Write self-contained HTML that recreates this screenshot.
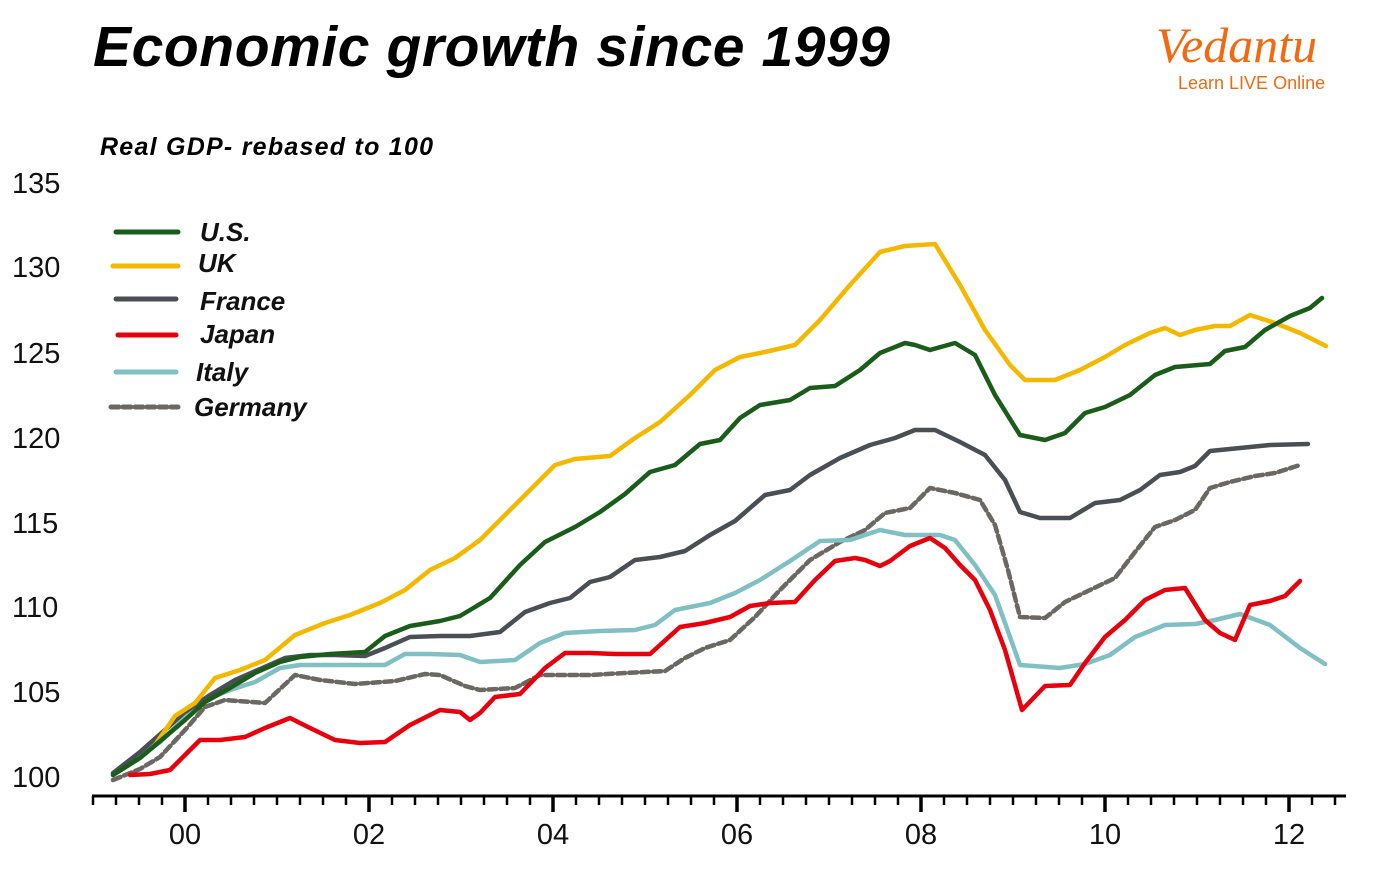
<!DOCTYPE html>
<html><head><meta charset="utf-8"><style>
body{margin:0;background:#fff;width:1373px;height:870px;overflow:hidden;font-family:"Liberation Sans",sans-serif;}
</style></head><body>
<svg width="1373" height="870" xmlns="http://www.w3.org/2000/svg" font-family="Liberation Sans, sans-serif">
<text x="93" y="66" font-size="57" font-weight="bold" font-style="italic" fill="#000" textLength="797" lengthAdjust="spacing">Economic growth since 1999</text>
<text x="1156" y="62" font-size="50" font-style="italic" fill="#f26a10" font-family="Liberation Serif, serif">Vedantu</text>
<text x="1178" y="89" font-size="18" fill="#f26a10">Learn LIVE Online</text>
<text x="100" y="155" font-size="25" font-weight="bold" font-style="italic" fill="#000" textLength="333" lengthAdjust="spacing">Real GDP- rebased to 100</text>
<g font-size="29" fill="#111">
<text x="12" y="193">135</text><text x="12" y="277">130</text><text x="12" y="363">125</text>
<text x="12" y="448">120</text><text x="12" y="533">115</text><text x="12" y="617">110</text>
<text x="12" y="702">105</text><text x="12" y="787">100</text>
</g>
<line x1="92" y1="796" x2="1346" y2="796" stroke="#000" stroke-width="3"/>
<path stroke="#000" stroke-width="2.5" fill="none" d="M93 796v9M116 796v9M139 796v9M162 796v9M208 796v9M231 796v9M254 796v9M277 796v9M300 796v9M323 796v9M346 796v9M392 796v9M415 796v9M438 796v9M461 796v9M484 796v9M507 796v9M530 796v9M576 796v9M599 796v9M622 796v9M645 796v9M668 796v9M691 796v9M714 796v9M760 796v9M783 796v9M806 796v9M829 796v9M852 796v9M875 796v9M898 796v9M944 796v9M967 796v9M990 796v9M1013 796v9M1036 796v9M1059 796v9M1082 796v9M1128 796v9M1151 796v9M1174 796v9M1197 796v9M1220 796v9M1243 796v9M1266 796v9M1312 796v9M1335 796v9"/>
<path stroke="#000" stroke-width="3.5" fill="none" d="M185 796v16M369 796v16M553 796v16M737 796v16M921 796v16M1105 796v16M1289 796v16"/>
<g font-size="29" fill="#111" text-anchor="middle">
<text x="185" y="844">00</text><text x="369" y="844">02</text><text x="553" y="844">04</text>
<text x="737" y="844">06</text><text x="921" y="844">08</text><text x="1105" y="844">10</text><text x="1289" y="844">12</text>
</g>
<g fill="none" stroke-linejoin="round" stroke-linecap="round" stroke-width="4.5">
<polyline stroke="#6b6762" stroke-dasharray="8,4" points="113,780 140,769 160,757 185,730 205,707 225,700 265,703 295,675 320,680 355,684 395,681 425,674 440,675 465,686 480,690 515,688 540,675 560,675 590,675 625,673 665,671 685,658 705,648 730,640 755,617 780,590 810,560 840,542 865,530 885,513 910,508 930,488 955,493 980,500 995,525 1008,570 1020,617 1045,618 1065,602 1090,590 1115,578 1135,552 1155,527 1175,520 1195,510 1210,488 1230,482 1255,476 1275,473 1300,465"/>
<polyline stroke="#80bfc3" points="113,775 135,760 160,742 185,718 205,700 230,690 255,682 280,668 300,665 340,665 385,665 405,654 430,654 460,655 480,662 515,660 540,643 565,633 600,631 635,630 655,625 675,610 710,603 735,593 760,580 790,561 820,541 850,540 880,530 905,535 940,535 955,540 975,565 995,595 1020,665 1060,668 1085,664 1110,655 1135,637 1165,625 1195,624 1215,620 1240,614 1270,625 1300,648 1325,664"/>
<polyline stroke="#e8000d" points="130,775 150,774 170,770 185,755 200,740 220,740 245,737 265,728 290,718 310,728 335,740 360,743 385,742 410,725 440,710 460,712 470,720 480,713 495,697 520,694 545,668 565,653 590,653 615,654 650,654 660,645 680,627 705,623 730,617 750,606 770,603 795,602 815,580 835,561 855,558 865,560 880,566 890,561 910,546 930,538 945,548 960,565 975,580 990,610 1005,650 1022,710 1045,686 1070,685 1085,663 1105,637 1125,620 1145,600 1165,590 1185,588 1205,620 1220,633 1235,640 1250,605 1270,601 1285,596 1300,581"/>
<polyline stroke="#4a4f55" points="113,773 140,752 165,730 185,712 210,695 235,680 260,669 285,658 310,655 335,655 365,656 385,648 410,637 440,636 470,636 500,632 525,612 550,603 570,598 590,582 610,577 635,560 660,557 685,551 710,535 735,521 765,495 790,490 810,475 840,458 870,445 895,438 915,430 935,430 960,442 985,455 1005,480 1020,512 1040,518 1070,518 1095,503 1120,500 1140,490 1160,475 1180,472 1195,466 1210,451 1240,448 1270,445 1308,444"/>
<polyline stroke="#f5b800" points="155,745 175,716 195,703 215,678 240,670 265,660 295,635 325,623 350,615 380,603 405,590 430,570 455,558 480,540 505,515 530,490 555,465 575,459 610,456 635,438 660,422 690,395 715,370 740,357 765,352 795,345 820,320 850,285 880,252 905,246 935,244 960,285 985,330 1010,365 1025,380 1055,380 1080,370 1105,357 1125,345 1150,333 1165,328 1180,335 1195,330 1215,326 1230,326 1250,315 1275,323 1300,333 1326,346"/>
<polyline stroke="#1a5c1a" points="113,775 140,758 165,737 185,720 205,702 230,688 255,673 280,662 300,657 330,654 365,652 385,636 410,626 440,621 460,616 490,598 520,565 545,542 575,527 600,512 625,494 650,472 675,465 700,444 720,440 740,418 760,405 790,400 810,388 835,386 860,370 880,353 905,343 915,345 930,350 955,343 975,355 995,395 1020,435 1045,440 1065,433 1085,413 1105,407 1130,395 1155,375 1175,367 1210,364 1225,351 1245,347 1265,330 1290,316 1310,308 1322,298"/>
<g stroke-width="5">
<line x1="116" y1="232" x2="178" y2="232" stroke="#1a5c1a"/>
<line x1="113" y1="266" x2="178" y2="266" stroke="#f5b800"/>
<line x1="116" y1="299" x2="176" y2="299" stroke="#4a4f55"/>
<line x1="118" y1="335" x2="176" y2="335" stroke="#e8000d"/>
<line x1="116" y1="372" x2="176" y2="372" stroke="#80bfc3"/>
<line x1="111" y1="407" x2="178" y2="407" stroke="#6b6762" stroke-dasharray="8,4"/>
</g>
</g>
<g font-size="26" font-style="italic" font-weight="bold" fill="#111">
<text x="200" y="241">U.S.</text><text x="198" y="272">UK</text><text x="200" y="310">France</text>
<text x="200" y="343">Japan</text><text x="196" y="381">Italy</text><text x="194" y="416">Germany</text>
</g>
</svg>
</body></html>
